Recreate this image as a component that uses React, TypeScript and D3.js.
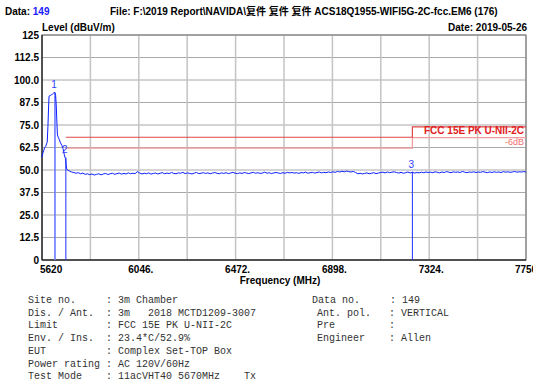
import React from "react";
import * as d3 from "d3";

const W = 533;
const H = 392;

const peakFreqs = [5620, 5624, 5628, 5632, 5636, 5640, 5643, 5646, 5649, 5651, 5656, 5661, 5666, 5670, 5674, 5677, 5680, 5683, 5686, 5688, 5692, 5696, 5700, 5704, 5708, 5712, 5715, 5718, 5721, 5724, 5726, 5728];
const peakLevels = [57.2, 59.5, 61.0, 62.5, 63.0, 64.5, 65.5, 74.0, 85.0, 91.0, 91.3, 91.8, 92.0, 92.6, 93.2, 92.8, 91.5, 85.0, 75.0, 69.5, 68.0, 67.0, 65.5, 64.5, 63.5, 62.0, 60.5, 58.5, 57.0, 56.5, 53.0, 51.0];

const floorStart = 5730;
const floorStep = 10;
const floorLevels = [
  50.2, 49.4, 48.9, 48.6, 48.2, 48.5, 47.9, 48.3, 47.6, 47.9, 47.4, 47.8, 47.2, 47.6, 47.9, 47.3, 47.8, 48.1, 47.5, 47.9,
  48.2, 47.6, 48.0, 48.3, 47.7, 48.1, 47.8, 48.4, 47.9, 48.2, 48.0, 49.1, 48.3, 47.8, 48.2, 47.9, 48.4, 47.7, 48.1, 48.3,
  47.8, 48.2, 48.5, 47.9, 48.3, 48.0, 48.6, 48.1, 47.9, 48.4, 48.2, 48.7, 48.0, 48.4, 48.1, 47.8, 48.3, 48.6, 48.0, 48.2,
  48.5, 48.1, 48.4, 47.9, 48.3, 48.6, 48.2, 47.9, 48.4, 48.1, 48.5, 48.0, 48.3, 48.7, 48.2, 48.0, 48.4, 48.1, 48.6, 48.3,
  48.0, 48.4, 48.7, 48.2, 48.5, 48.1, 48.3, 48.8, 48.2, 48.5, 48.0, 48.4, 48.6, 48.3, 48.1, 48.5, 48.2, 48.7, 48.4, 48.6,
  48.3, 48.5, 48.1, 48.6, 48.4, 48.8, 48.2, 48.5, 48.7, 48.3, 48.6, 48.9, 48.4, 48.7, 48.5, 48.9, 48.6, 49.0, 48.7, 49.2,
  48.9, 49.3, 49.0, 49.4, 49.1, 48.9, 49.2, 48.6, 47.9, 48.2, 47.8, 48.1, 48.4, 47.9, 48.2, 48.5, 48.0, 48.3, 48.6, 48.8,
  48.4, 48.9, 48.5, 48.8, 49.0, 48.6, 48.3, 48.7, 48.2, 48.5, 48.9, 48.4, 48.7, 48.3, 48.6, 48.4, 48.8, 48.5, 48.9, 48.6,
  48.8, 48.5, 49.0, 48.7, 48.4, 48.9, 48.6, 49.1, 48.8, 48.5, 49.0, 48.7, 48.9, 48.6, 49.2, 48.8, 48.5, 48.9, 48.7, 49.0,
  48.6, 48.9, 48.7, 49.1, 48.8, 48.5, 48.9, 48.6, 49.0, 48.7, 48.9, 48.6, 49.1, 48.8, 49.0, 48.7, 48.9, 49.2, 48.8, 49.0,
  48.9, 49.1, 48.9,
];

// limit: [freq start, freq end, level]
const limitFreqs = [5725, 7250, 7250, 7750];
const limitLevels = [68.2, 68.2, 74.0, 74.0];
const limitOffset = -6;

const markerNames = ["1", "2", "3"];
const markerFreqs = [5677, 5725, 7250];
const markerLevels = [93.2, 57.0, 49.0];

const yTicks = [0, 12.5, 25, 37.5, 50, 62.5, 75, 87.5, 100, 112.5, 125];
const yTickLabels = ["0", "12.5", "25.0", "37.5", "50.0", "62.5", "75.0", "87.5", "100.0", "112.5", "125"];
const xGrid = [5620, 5833, 6046, 6259, 6472, 6685, 6898, 7111, 7324, 7537, 7750];
const xTickVals = [5620, 6046, 6472, 6898, 7324, 7750];
const xTickLabels = ["5620", "6046.", "6472.", "6898.", "7324.", "7750"];

const infoLeft = [
  "Site no.     : 3m Chamber",
  "Dis. / Ant.  : 3m   2018 MCTD1209-3007",
  "Limit        : FCC 15E PK U-NII-2C",
  "Env. / Ins.  : 23.4*C/52.9%",
  "EUT          : Complex Set-TOP Box",
  "Power rating : AC 120V/60Hz",
  "Test Mode    : 11acVHT40 5670MHz    Tx",
];
const infoRight = [
  "Data no.     : 149",
  "Ant. pol.   : VERTICAL",
  "Pre         :",
  "Engineer    : Allen",
];

const L = 42, R = 526, T = 35, B = 260;
const SANS = "'Liberation Sans', Arial, 'Noto Sans CJK SC', sans-serif";
const MONO = "'Liberation Mono', 'Courier New', monospace";

export default function App() {
  const x = d3.scaleLinear().domain([5620, 7750]).range([L, R]);
  const y = d3.scaleLinear().domain([0, 125]).range([B, T]);

  const pts: [number, number][] = peakFreqs.map((f, i) => [f, peakLevels[i]]);
  floorLevels.forEach((v, i) => pts.push([floorStart + i * floorStep, v]));
  const line = d3.line<[number, number]>().x((d) => x(d[0])).y((d) => y(d[1]));

  const limPts: [number, number][] = limitFreqs.map((f, i) => [f, limitLevels[i]]);
  const limPts6: [number, number][] = limitFreqs.map((f, i) => [f, limitLevels[i] + limitOffset]);

  return (
    <svg width={W} height={H} style={{ position: "absolute", left: 0, top: 0, background: "#fff" }}>
      <rect x={0} y={0} width={W} height={H} fill="#fff" />
      {/* header */}
      <text x={5} y={15} fontFamily={SANS} fontWeight="bold" fontSize={10}>
        Data: <tspan fill="#1a1aff">149</tspan>
      </text>
      <text x={110} y={15} fontFamily={SANS} fontWeight="bold" fontSize={10}>
        File: F:\2019 Report\NAVIDA\复件 复件 复件 ACS18Q1955-WIFI5G-2C-fcc.EM6  (176)
      </text>
      <text x={L} y={31} fontFamily={SANS} fontWeight="bold" fontSize={10}>Level (dBuV/m)</text>
      <text x={527} y={31} textAnchor="end" fontFamily={SANS} fontWeight="bold" fontSize={10}>Date: 2019-05-26</text>

      {/* grid */}
      {yTicks.map((t) => (
        <line key={"h" + t} x1={L} x2={R} y1={y(t)} y2={y(t)} stroke="#a8a8a8" strokeWidth={1} />
      ))}
      {xGrid.map((f) => (
        <line key={"v" + f} x1={x(f)} x2={x(f)} y1={T} y2={B} stroke="#c4c4c4" strokeWidth={1.5} />
      ))}
      <rect x={L} y={T} width={R - L} height={B - T} fill="none" stroke="#707070" strokeWidth={1} />
      <line x1={L} x2={L} y1={T} y2={B} stroke="#000" strokeWidth={1} />
      <line x1={L} x2={R} y1={B} y2={B} stroke="#000" strokeWidth={1} />

      {/* y labels */}
      {yTicks.map((t, i) => (
        <text key={"yl" + t} x={39} y={y(t)} dy="0.35em" textAnchor="end" fontFamily={SANS} fontWeight="bold" fontSize={10}>
          {yTickLabels[i]}
        </text>
      ))}
      {/* x labels */}
      {xTickVals.map((f, i) => (
        <text key={"xl" + f} x={i === 0 ? 40 : x(f) + (i === xTickVals.length - 1 ? 0 : 2)} y={273}
          textAnchor={i === 0 ? "start" : "middle"} fontFamily={SANS} fontWeight="bold" fontSize={10}>
          {xTickLabels[i]}
        </text>
      ))}
      <text x={280} y={284} textAnchor="middle" fontFamily={SANS} fontWeight="bold" fontSize={10}>Frequency (MHz)</text>

      {/* limit lines */}
      <path d={line(limPts6) || ""} fill="none" stroke="#f29a9a" strokeWidth={1.2} />
      <path d={line(limPts) || ""} fill="none" stroke="#e04848" strokeWidth={1.2} />
      <text x={524} y={134} textAnchor="end" fontFamily={SANS} fontWeight="bold" fontSize={10} fill="#e02020">FCC 15E PK U-NII-2C</text>
      <text x={524} y={145} textAnchor="end" fontFamily={SANS} fontSize={9} fill="#f07070">-6dB</text>

      {/* marker lines */}
      {markerFreqs.map((f, i) => (
        <line key={"m" + i} x1={x(f)} x2={x(f)} y1={y(markerLevels[i])} y2={B}
          stroke={i === 0 ? "#6a78ff" : "#2030ff"} strokeWidth={i === 0 ? 1.6 : 1} />
      ))}

      {/* trace */}
      <path d={line(pts) || ""} fill="none" stroke="#0a1eff" strokeWidth={1} />

      {markerFreqs.map((f, i) => (
        <text key={"mt" + i} x={x(f) - 1} y={y(markerLevels[i]) - 4} textAnchor="middle" fontFamily={SANS} fontSize={10} fill="#3040ff">
          {markerNames[i]}
        </text>
      ))}

      {/* info */}
      {infoLeft.map((s, i) => (
        <text key={"il" + i} x={28} y={303 + i * 12.7} fontFamily={MONO} fontSize={10} fill="#333" style={{ whiteSpace: "pre" }}>
          {s}
        </text>
      ))}
      {infoRight.map((s, i) => (
        <text key={"ir" + i} x={i === 0 ? 312 : 317} y={303 + i * 12.7} fontFamily={MONO} fontSize={10} fill="#333" style={{ whiteSpace: "pre" }}>
          {s}
        </text>
      ))}
    </svg>
  );
}
